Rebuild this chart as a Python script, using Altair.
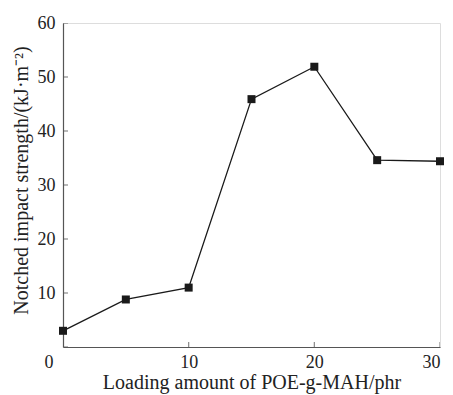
import altair as alt
import pandas as pd

loading = [0, 5, 10, 15, 20, 25, 30]
strength = [3.0, 8.8, 11.0, 45.9, 51.9, 34.6, 34.4]
x_ticks = [0, 10, 20, 30]
y_ticks = [0, 10, 20, 30, 40, 50, 60]

df = pd.DataFrame({"x": loading, "y": strength})
origin = pd.DataFrame({"x": [0], "y": [0], "t": ["0"]})
xt = pd.DataFrame({"x": x_ticks, "y": [0] * len(x_ticks)})
yt = pd.DataFrame({"x": [0] * len(y_ticks), "y": y_ticks})

FONT = "Liberation Serif"
xs = alt.Scale(domain=[0, 30], nice=False, zero=False)
ys = alt.Scale(domain=[0, 60], nice=False)

x_main = alt.X("x:Q", scale=xs, axis=alt.Axis(
    values=x_ticks, labelExpr="datum.value == 0 ? '' : datum.label",
    ticks=False, grid=False, domainColor="#555", domainWidth=1.2,
    labelFont=FONT, labelFontSize=18, labelColor="#222", labelPadding=6,
    title="Loading amount of POE-g-MAH/phr", titleFont=FONT, titleFontSize=20,
    titleFontWeight="normal", titleColor="#222", titlePadding=1))
y_main = alt.Y("y:Q", scale=ys, axis=alt.Axis(
    values=y_ticks, labelExpr="datum.value == 0 ? '' : datum.label",
    ticks=False, grid=False, domainColor="#555", domainWidth=1.2,
    labelFont=FONT, labelFontSize=18, labelColor="#222", labelPadding=8,
    title="Notched impact strength/(kJ·m⁻²)", titleFont=FONT, titleFontSize=20,
    titleFontWeight="normal", titleColor="#222", titlePadding=6, titleY=157))

base = alt.Chart(df)
line = base.mark_line(color="#1a1a1a", strokeWidth=1.3).encode(x=x_main, y=y_main)
pts = base.mark_square(color="#1a1a1a", size=64, opacity=1).encode(x="x:Q", y="y:Q")

xtick_marks = alt.Chart(xt).mark_tick(
    orient="vertical", size=10, thickness=1.2, color="#555", clip=True
).encode(x="x:Q", y="y:Q")
ytick_marks = alt.Chart(yt).mark_tick(
    orient="horizontal", size=10, thickness=1.2, color="#555", clip=True
).encode(x="x:Q", y="y:Q")

zero_label = alt.Chart(origin).mark_text(
    font=FONT, fontSize=18, color="#222", baseline="top", align="center", dx=-14, dy=7
).encode(x="x:Q", y="y:Q", text="t:N")

chart = alt.layer(line, xtick_marks, ytick_marks, pts, zero_label).properties(
    width=377, height=324,
    autosize=alt.AutoSizeParams(type="none"),
    padding={"left": 63, "top": 23, "right": 13, "bottom": 48},
).configure_view(stroke=None).configure(background="white")

chart.save("out.html", embed_options={"renderer": "svg", "actions": False})
